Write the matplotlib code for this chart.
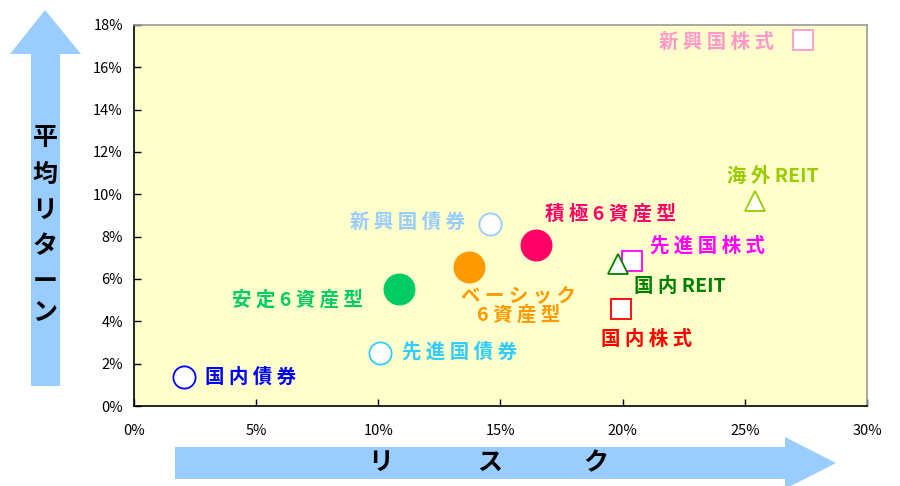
import matplotlib
matplotlib.use('Agg')
import matplotlib.pyplot as plt
from matplotlib.patches import Polygon
from matplotlib.ticker import FuncFormatter

plt.rcParams['font.family'] = ['Noto Sans CJK JP', 'DejaVu Sans']

# Data (risk %, average return %)
names = ['国内債券', '先進国債券', '新興国債券', '国内株式', '先進国株式', '新興国株式',
         '国内REIT', '海外REIT', '安定6資産型', 'ベーシック\n6資産型', '積極6資産型']
risk = [2.05, 10.05, 14.55, 19.95, 20.4, 27.4, 19.8, 25.4, 10.85, 13.7, 16.45]
ret = [1.35, 2.5, 8.6, 4.6, 6.85, 17.3, 6.7, 9.7, 5.55, 6.55, 7.6]

# style per point: marker, edge color, filled?, label offset (px), ha
colors = ['#0000FF', '#33CCFF', '#99CCFF', '#FF0000', '#FF00FF', '#FF99CC',
          '#008000', '#99CC00', '#00CC66', '#FF9900', '#FF0066']
markers = ['o', 'o', 'o', 's', 's', 's', '^', '^', 'o', 'o', 'o']
filled = [False] * 8 + [True] * 3
offsets = [(21, 0), (22, 1), (-25, 2), (25, -31), (18, 15), (-29, -2),
           (16, -22), (18, 24), (-36, -11), (50, -38), (9, 31)]
aligns = ['left', 'left', 'right', 'center', 'left', 'right',
          'left', 'center', 'right', 'center', 'left']


def spaced(label):
    # wide letter spacing like the original, latin runs kept together
    if label.endswith('REIT'):
        return ' '.join(label[:-4]) + ' REIT'
    return '\n'.join(' '.join(part) for part in label.split('\n'))


fig = plt.figure(figsize=(9, 4.86), dpi=100)
ax = fig.add_axes([134 / 900, 1 - 406 / 486, 733 / 900, 381 / 486])
ax.set_facecolor('#FFFFCC')

for i in range(len(names)):
    if filled[i]:
        ax.plot(risk[i], ret[i], marker='o', ms=22, color=colors[i], mec=colors[i],
                linestyle='none', zorder=3)
    else:
        ms = 16 if markers[i] == 'o' else 15
        ax.plot(risk[i], ret[i], marker=markers[i], ms=ms, mfc='white', mec=colors[i],
                mew=1.3, linestyle='none', zorder=3)
    ax.annotate(spaced(names[i]), (risk[i], ret[i]), xytext=offsets[i], textcoords='offset pixels',
                ha=aligns[i], va='center', color=colors[i], fontsize=14,
                fontweight='bold', linespacing=1.0, zorder=4)

ax.set_xlim(0, 30)
ax.set_ylim(0, 18)
ax.set_xticks(range(0, 31, 5))
ax.set_yticks(range(0, 19, 2))
ax.xaxis.set_major_formatter(FuncFormatter(lambda v, p: f'{v:.0f}%'))
ax.yaxis.set_major_formatter(FuncFormatter(lambda v, p: f'{v:.0f}%'))
ax.tick_params(direction='in', length=5, width=1, labelsize=10.5, colors='black')
ax.tick_params(axis='x', pad=13)
ax.tick_params(axis='y', pad=8)
for s in ['left', 'bottom']:
    ax.spines[s].set_color('black')
    ax.spines[s].set_linewidth(1.2)
for s in ['top', 'right']:
    ax.spines[s].set_color('#999999')
    ax.spines[s].set_linewidth(1.2)


def px(pts):
    return [(x / 900, 1 - y / 486) for x, y in pts]


arrow_col = '#99CCFF'
# vertical arrow (return)
fig.add_artist(Polygon(px([(31, 386), (31, 54), (10, 54), (45, 10), (81, 54), (60, 54), (60, 386)]),
                       closed=True, transform=fig.transFigure, facecolor=arrow_col, edgecolor='none'))
# horizontal arrow (risk)
fig.add_artist(Polygon(px([(175, 447), (785, 447), (785, 437), (836, 463), (785, 489), (785, 479), (175, 479)]),
                       closed=True, transform=fig.transFigure, facecolor=arrow_col, edgecolor='none'))

for ch, y in zip('平均リターン', [138, 175, 211, 246, 282, 312]):
    fig.text(45 / 900, 1 - y / 486, ch, ha='center', va='center', fontsize=18,
             fontweight='bold', color='black')
for ch, x in zip('リスク', [381, 490, 596]):
    fig.text(x / 900, 1 - 463 / 486, ch, ha='center', va='center', fontsize=18,
             fontweight='bold', color='black')

fig.savefig('out.png', dpi=100)
